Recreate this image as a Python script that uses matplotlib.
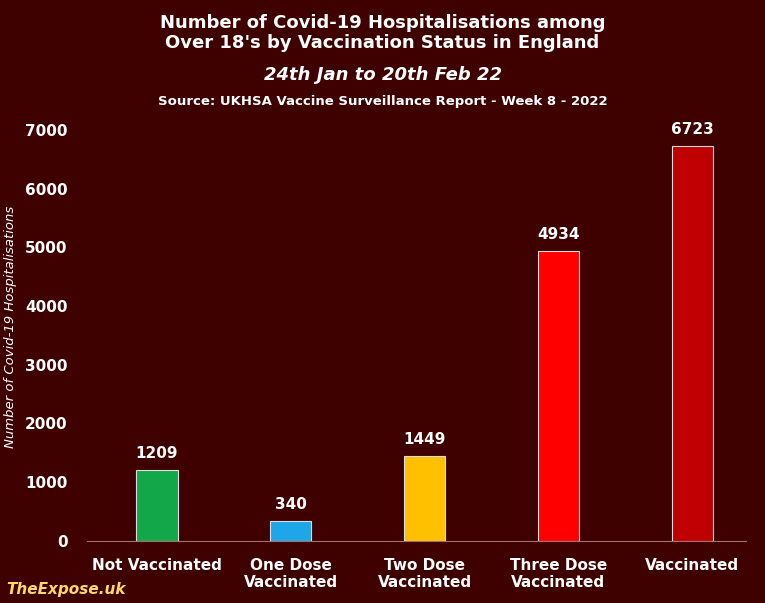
import matplotlib.pyplot as plt

categories = ["Not Vaccinated", "One Dose\nVaccinated", "Two Dose\nVaccinated",
              "Three Dose\nVaccinated", "Vaccinated"]
values = [1209, 340, 1449, 4934, 6723]
colors = ["#12a84a", "#1ea7e8", "#ffc000", "#ff0000", "#c00000"]

bg = "#3f0000"
fig = plt.figure(figsize=(7.65, 6.03), dpi=100, facecolor=bg)
ax = fig.add_axes([0.114, 0.103, 0.861, 0.711], facecolor=bg)

x = range(len(values))
ax.bar(x, values, width=0.31, color=colors, edgecolor="#dddddd", linewidth=0.8, zorder=3)
for xi, v in zip(x, values):
    ax.text(xi, v + 150, str(v), ha="center", va="bottom", color="white",
            fontsize=11, fontweight="bold")

ax.set_xlim(-0.52, 4.4)
ax.set_ylim(0, 7300)
ax.set_yticks(range(0, 7001, 1000))
ax.set_xticks(list(x))
ax.set_xticklabels(categories, color="white", fontsize=11, fontweight="bold")
ax.tick_params(axis="y", colors="white", labelsize=11, length=0, pad=14)
ax.tick_params(axis="x", length=0, pad=12)
for lbl in ax.get_yticklabels():
    lbl.set_fontweight("bold")
for s in ["top", "right", "left"]:
    ax.spines[s].set_visible(False)
ax.spines["bottom"].set_color("#a07070")
ax.set_ylabel("Number of Covid-19 Hospitalisations", color="white", fontsize=9.5,
              style="italic", labelpad=6)

fig.text(0.5, 0.945, "Number of Covid-19 Hospitalisations among\nOver 18's by Vaccination Status in England",
         ha="center", va="center", color="white", fontsize=13, fontweight="bold",
         linespacing=1.1)
fig.text(0.5, 0.876, "24th Jan to 20th Feb 22", ha="center", va="center",
         color="white", fontsize=13, fontweight="bold", style="italic")
fig.text(0.5, 0.832, "Source: UKHSA Vaccine Surveillance Report - Week 8 - 2022",
         ha="center", va="center", color="white", fontsize=9.5, fontweight="bold")
fig.text(0.008, 0.015, "TheExpose.uk", color="#ffd966", fontsize=11,
         fontweight="bold", style="italic")

fig.savefig("out.png", dpi=100, facecolor=bg)
